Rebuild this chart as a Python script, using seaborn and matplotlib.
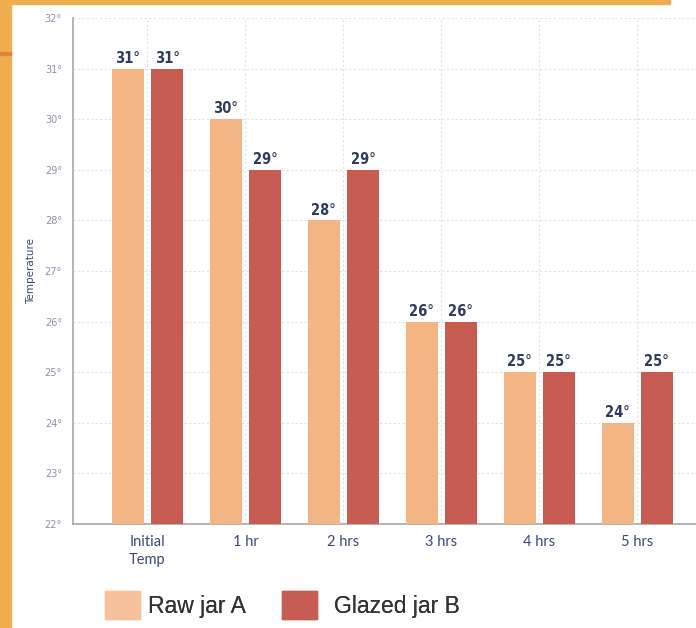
import matplotlib
matplotlib.use("Agg")
import matplotlib.pyplot as plt
import matplotlib.patches as mpatches
import seaborn as sns
import pandas as pd

# data
stages = ["Initial\nTemp", "1 hr", "2 hrs", "3 hrs", "4 hrs", "5 hrs"]
raw_jar = [31, 30, 28, 26, 25, 24]
glazed_jar = [31, 29, 29, 26, 25, 25]
series = ["Raw jar A", "Glazed jar B"]
colors = ["#F2B583", "#C75D52"]
yticks = [22, 23, 24, 25, 26, 27, 28, 29, 30, 31, 32]

df = pd.DataFrame({
    "Stage": stages * 2,
    "Temp": raw_jar + glazed_jar,
    "Jar": [series[0]] * len(stages) + [series[1]] * len(stages),
})

sns.set_style("white")
fig = plt.figure(figsize=(6.96, 6.28), dpi=100)

# orange frame of the screenshot
fig.patches.append(mpatches.Rectangle((0, 0), 11 / 696, 1, transform=fig.transFigure,
                                      color="#EFAE4E", zorder=0))
fig.patches.append(mpatches.Rectangle((0, 1 - 4 / 628), 670 / 696, 4 / 628,
                                      transform=fig.transFigure, color="#EFAE4E", zorder=0))
fig.patches.append(mpatches.Rectangle((0, 1 - 55 / 628), 11 / 696, 3 / 628,
                                      transform=fig.transFigure, color="#E5813C", zorder=0))

ax = fig.add_axes([73 / 696, 1 - 524 / 628, 1 - 73 / 696, (524 - 18) / 628])
sns.barplot(data=df, x="Stage", y="Temp", hue="Jar", palette=colors, saturation=1,
            width=0.8, gap=0.18, linewidth=0, ax=ax, legend=False, zorder=3)

ax.set_ylim(22, 32)
ax.set_xlim(-0.76, 5.6)
ax.set_yticks(yticks)
ax.set_yticklabels([f"{t}°" for t in yticks], fontsize=7, color="#8A93A8")
ax.set_xticks(range(len(stages)))
ax.set_xticklabels(stages, fontsize=10.5, color="#3A4A78", family="Lato", linespacing=1.35)
ax.set_xlabel("")
ax.set_ylabel("Temperature", fontsize=7.5, color="#3A4A78", labelpad=6)

ax.grid(True, color="#E2E2E2", linestyle=(0, (2, 2)), linewidth=0.8, zorder=0)
ax.set_axisbelow(True)
for s in ["top", "right"]:
    ax.spines[s].set_visible(False)
ax.spines["left"].set_color("#A8A8A8")
ax.spines["bottom"].set_color("#A8A8A8")
ax.spines["left"].set_linewidth(1.2)
ax.spines["bottom"].set_linewidth(1.2)
ax.tick_params(axis="both", length=4, color="#A8A8A8", width=1, pad=4)

# value labels on top of bars
for cont in ax.containers:
    ax.bar_label(cont, labels=[f"{int(v)}°" for v in cont.datavalues], padding=2,
                 fontsize=10.5, fontweight="bold", color="#2E3C5E",
                 family="DejaVu Sans", fontstretch="condensed")

# legend - two separate entries, the spacing differs in the original
leg_colors = ["#F5C29C", colors[1]]
leg_x = [84, 261]
leg_pad = [0.35, 0.75]
for c, l, x, p in zip(leg_colors, series, leg_x, leg_pad):
    lg = fig.legend(handles=[mpatches.Patch(color=c, label=l)], loc="lower left",
                    bbox_to_anchor=(x / 696, -12 / 628), frameon=False,
                    handlelength=1.55, handleheight=1.5, handletextpad=p,
                    labelcolor="#333333", prop={"family": "Liberation Sans", "size": 16.5})
    fig.add_artist(lg)

fig.savefig("out.png", dpi=100)
